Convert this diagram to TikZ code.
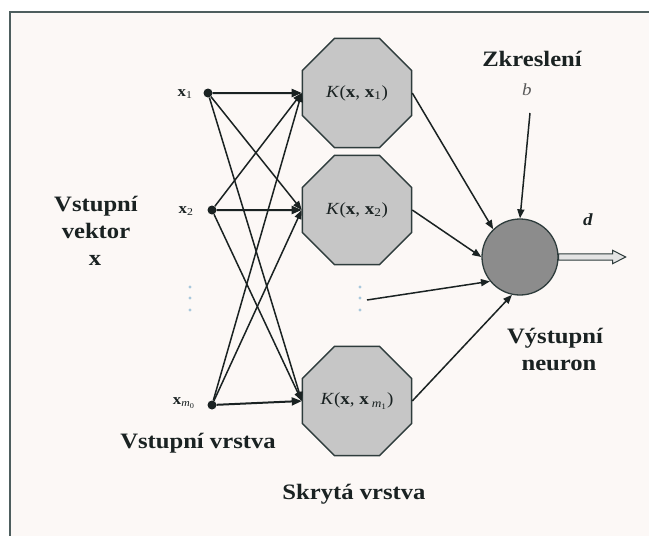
\documentclass[tikz,border=0pt]{standalone}
\usepackage{fontspec}
\setmainfont{Liberation Serif}[FakeStretch=1.12]
\usetikzlibrary{shapes.geometric,arrows.meta,calc}
\definecolor{framec}{HTML}{4E5E5E}
\definecolor{octfill}{HTML}{C6C6C6}
\definecolor{octdraw}{HTML}{2E3C3C}
\definecolor{outfill}{HTML}{8C8C8C}
\definecolor{dotblue}{HTML}{A8C8DC}
\definecolor{bgc}{HTML}{FCF8F6}
\definecolor{arrfill}{HTML}{E4E4E4}
\definecolor{linec}{HTML}{1A2222}
\begin{document}
\begin{tikzpicture}[x=1pt,y=-1pt,
  lab/.style={font=\fontsize{22}{27}\selectfont\bfseries, inner sep=0pt, anchor=base, text=linec},
  klab/.style={font=\fontsize{17}{20}\selectfont, text=linec},
  xlab/.style={font=\fontsize{15}{17}\selectfont, inner sep=0pt, text=linec},
  ilab/.style={font=\fontsize{17}{20}\selectfont\itshape, inner sep=0pt, anchor=base},
  kern/.style={regular polygon, regular polygon sides=8, minimum size=118pt, inner sep=0pt, fill=octfill, draw=octdraw, line width=1.5pt},
  inp/.style={circle, fill=linec, minimum size=9pt, inner sep=0pt},
  outn/.style={circle, minimum size=76pt, inner sep=0pt, fill=outfill, draw=octdraw, line width=1.3pt},
  conn/.style={draw=linec, line width=1.5pt, -{Triangle[length=9pt,width=7pt]}},
  hconn/.style={draw=linec, line width=2pt, -{Triangle[length=10pt,width=8pt]}},
  vdot/.style={fill=dotblue}
]
\useasboundingbox (0,0) rectangle (649,536);
\fill[white] (0,0) rectangle (649,536);
\fill[bgc] (10,12) rectangle (649,536);
\draw[framec, line width=2.5pt] (10,536) -- (10,12) -- (649,12);

% hidden layer
\node[kern, klab] (K1) at (357,93) {\textit{K}(\textbf{x}, \textbf{x}\textsubscript{1})};
\node[kern, klab] (K2) at (357,210) {\textit{K}(\textbf{x}, \textbf{x}\textsubscript{2})};
\node[kern, klab] (K3) at (357,401) {\textit{K}(\textbf{x}, \textbf{x}\,\textsubscript{\textit{m}\textsubscript{1}})};

% inputs
\node[inp] (x1) at (208,93) {};
\node[inp] (x2) at (212,210) {};
\node[inp] (xm) at (212,405) {};
\node[xlab] (lx1) at (185,94) {\textbf{x}\textsubscript{1}};
\node[xlab] (lx2) at (186,211) {\textbf{x}\textsubscript{2}};
\node[xlab] (lxm) at (184,403) {\textbf{x}\textsubscript{\textit{m}\textsubscript{0}}};

% input connections
\draw[hconn] (x1) -- (K1.west);
\draw[hconn] (x2) -- (K2.west);
\draw[hconn] (xm) -- (K3.west);
\draw[conn] (x1) -- (K2.west);
\draw[conn] (x1) -- (K3.west);
\draw[conn] (x2) -- (K1.west);
\draw[conn] (x2) -- (K3.west);
\draw[conn] (xm) -- (K1.west);
\draw[conn] (xm) -- (K2.west);

% vertical dots
\foreach \yy in {287,298,310} {
  \fill[vdot] (190,\yy) circle (1.6pt);
  \fill[vdot] (360,\yy) circle (1.6pt);
}

% output neuron
\node[outn] (out) at (520,257) {};
\coordinate (bstart) at (530,113);
\coordinate (dstart) at (367,300);
\draw[conn] (K1.east) -- (out.134);
\draw[conn] (K2.east) -- (out.west);
\draw[conn] (dstart) -- (out.219);
\draw[conn] (K3.east) -- (out.258);
\draw[conn] (bstart) -- (out.north);

% output arrow
\draw[octdraw, line width=1pt, fill=arrfill]
  ($(out.east)+(0,-3.2)$) -- ++(54,0) -- ++(0,-3.5) -- ++(13,6.7) -- ++(-13,6.7) -- ++(0,-3.5) -- ++(-54,0) -- cycle;

% labels
\node[lab] (zk) at (532,66) {Zkreslení};
\node[ilab, text=black!65] (lb) at (527,95) {b};
\node[ilab, font=\fontsize{17}{20}\selectfont\bfseries\itshape, text=linec] (ld) at (588,225) {d};
\node[lab] (v1) at (96,211) {Vstupní};
\node[lab] (v2) at (96,238) {vektor};
\node[lab] (v3) at (95,265) {x};
\node[lab] (o1) at (555,343) {Výstupní};
\node[lab] (o2) at (559,370) {neuron};
\node[lab] (il) at (198,448) {Vstupní vrstva};
\node[lab] (hl) at (354,499) {Skrytá vrstva};
\end{tikzpicture}
\end{document}
